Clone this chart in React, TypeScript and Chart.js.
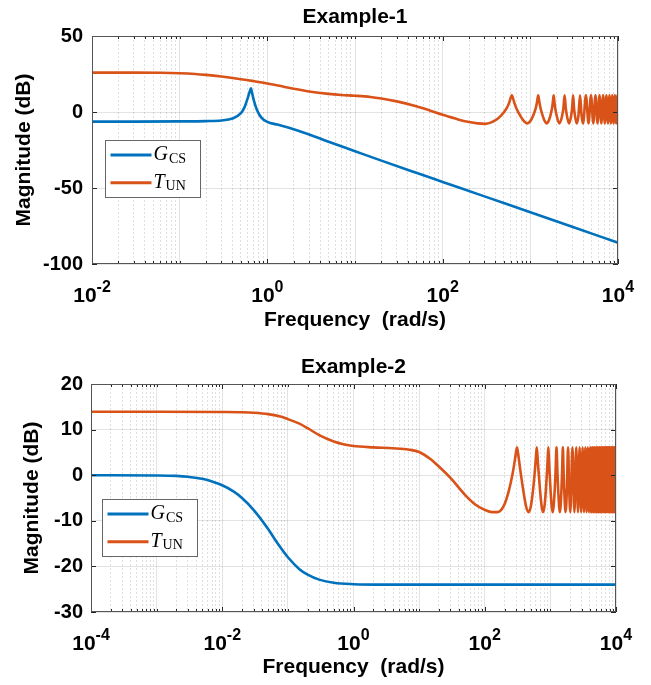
import React, { useEffect, useRef } from 'react';
import { Chart, registerables } from 'chart.js';

Chart.register(...registerables);

const BLUE = '#0072BD';
const ORANGE = '#D95319';
const FONT = "'Liberation Sans', Arial, Helvetica, sans-serif";
const SERIF = "'Liberation Serif', 'Times New Roman', serif";
const GRID_MAJOR = 'rgba(38,38,38,0.13)';
const GRID_MINOR = 'rgba(38,38,38,0.15)';
const AXIS_COLOR = '#262626';

const xAxisTitle = 'Frequency  (rad/s)';
const yAxisTitle = 'Magnitude (dB)';
const legendLabels = [
  { main: 'G', sub: 'CS' },
  { main: 'T', sub: 'UN' },
];

// ---------- Example-1 ----------
const ex1Title = 'Example-1';
const ex1XRange = [1e-2, 1e4];
const ex1YRange = [-100, 50];
const ex1YStep = 50;
const ex1XTickExps = [-2, 0, 2, 4];
const ex1Gcs: number[][] = [
  [0.01, -6.3], [0.03, -6.3], [0.1, -6.2], [0.2, -6.0], [0.3, -5.6], [0.4, -4.3], [0.5, -0.8],
  [0.55, 3.2], [0.6, 9.5], [0.63, 13.5], [0.65, 15.6], [0.67, 12.5], [0.7, 7.8], [0.76, 1.5],
  [0.85, -3.5], [1, -6.5], [1.3, -8.3], [1.8, -10.5], [3, -14.8], [5, -19.6], [10, -25.8],
  [20, -32], [50, -40], [100, -46], [300, -55.5], [1000, -66], [3000, -75.5], [10000, -86],
];
const ex1Tun: number[][] = [
  [0.01, 25.9], [0.03, 25.9], [0.06, 25.8], [0.1, 25.5], [0.15, 25.0], [0.2, 24.4], [0.3, 23.3],
  [0.5, 21.6], [0.7, 20.3], [1, 18.8], [1.5, 16.8], [2, 15.3], [3, 13.5], [5, 11.9], [7, 11.2],
  [10, 10.7], [15, 9.9], [20, 8.9], [30, 7.0], [50, 3.8], [70, 1.2], [100, -1.8], [150, -4.9],
  [200, -6.6], [250, -7.5], [307, -7.8],
  [384, -6], [461, -2.5], [538, 2.5], [577, 6.5], [615, 11], [653, 6.5], [692, 2.5], [769, -2.5], [846, -6], [922, -7.5],
  [999, -6], [1076, -2.5], [1153, 2.5], [1192, 6.5], [1230, 11], [1268, 6.5], [1307, 2.5], [1384, -2.5], [1461, -6], [1537, -7.5],
  [1614, -6], [1691, -2.5], [1768, 2.5], [1807, 6.5], [1845, 11], [1883, 6.5], [1922, 2.5], [1999, -2.5], [2076, -6], [2152, -7.5],
  [2306, -2.5], [2383, 2.5], [2460, 11], [2537, 2.5], [2614, -2.5], [2767, -7.5],
  [2921, -2.5], [2998, 2.5], [3075, 11], [3152, 2.5], [3229, -2.5], [3382, -7.5],
  [3536, -2.5], [3690, 11], [3844, -2.5], [3997, -7.5],
  [4305, 11], [4612, -7.5], [4920, 11], [5227, -7.5], [5535, 11], [5842, -7.5], [6150, 11], [6457, -7.5],
  [6765, 11], [7072, -7.5], [7380, 11], [7687, -7.5], [7995, 11], [8302, -7.5], [8610, 11], [8917, -7.5],
  [9225, 11], [9532, -7.5], [9840, 11], [10000, 3],
];

// ---------- Example-2 ----------
const ex2Title = 'Example-2';
const ex2XRange = [1e-4, 1e4];
const ex2YRange = [-30, 20];
const ex2YStep = 10;
const ex2XTickExps = [-4, -2, 0, 2, 4];
const ex2Gcs: number[][] = [
  [1e-4, 0], [1e-3, -0.05], [2e-3, -0.15], [3e-3, -0.35], [5e-3, -0.8], [7e-3, -1.4], [0.01, -2.2],
  [0.015, -3.6], [0.02, -5.0], [0.03, -7.6], [0.05, -11.8], [0.07, -15.0], [0.1, -18.0], [0.15, -20.6],
  [0.2, -21.8], [0.3, -22.9], [0.5, -23.6], [1, -23.9], [3, -24], [10000, -24],
];
const ex2Tun: number[][] = [
  [1e-4, 13.9], [1e-3, 13.9], [0.01, 13.85], [0.02, 13.8], [0.03, 13.7], [0.05, 13.4], [0.08, 12.8],
  [0.1, 12.3], [0.15, 11.3], [0.2, 10.3], [0.3, 8.8], [0.5, 7.4], [0.7, 6.8], [1, 6.4], [2, 6.1],
  [4, 5.9], [7, 5.6], [10, 5.1], [15, 3.5], [20, 1.9], [30, -0.6], [50, -4.3], [70, -6.3], [100, -7.6],
  [130, -8.1], [155, -8.1],
  [194, -6.8], [232, -3.5], [271, 1.0], [291, 3.8], [310, 6.1], [329, 3.8], [349, 1.0], [388, -3.5], [426, -6.8], [465, -8.1],
  [504, -6.8], [542, -3.5], [581, 1.0], [601, 3.8], [620, 6.1], [639, 3.8], [659, 1.0], [698, -3.5], [736, -6.8], [775, -8.1],
  [814, -6.8], [852, -3.5], [891, 1.0], [911, 3.8], [930, 6.1], [949, 3.8], [969, 1.0], [1008, -3.5], [1046, -6.8], [1085, -8.1],
  [1162, -3.5], [1201, 1.0], [1240, 6.1], [1279, 1.0], [1318, -3.5], [1395, -8.1],
  [1472, -3.5], [1511, 1.0], [1550, 6.1], [1589, 1.0], [1628, -3.5], [1705, -8.1],
  [1782, -3.5], [1860, 6.1], [1938, -3.5], [2015, -8.1],
  [2170, 6.1], [2325, -8.1], [2480, 6.1], [2635, -8.1], [2790, 6.1], [2945, -8.1], [3100, 6.1], [3255, -8.1],
  [3410, 6.1], [3565, -8.1], [3720, 6.1], [3875, -8.1], [4030, 6.1], [4185, -8.1], [4340, 6.1], [4495, -8.1],
  [4650, 6.1], [4805, -8.1], [4960, 6.1], [5115, -8.1], [5270, 6.1], [5425, -8.1], [5580, 6.1], [5735, -8.1],
  [5890, 6.1], [6045, -8.1], [6200, 6.1], [6355, -8.1], [6510, 6.1], [6665, -8.1], [6820, 6.1], [6975, -8.1],
  [7130, 6.1], [7285, -8.1], [7440, 6.1], [7595, -8.1], [7750, 6.1], [7905, -8.1], [8060, 6.1], [8215, -8.1],
  [8370, 6.1], [8525, -8.1], [8680, 6.1], [8835, -8.1], [8990, 6.1], [9145, -8.1], [9300, 6.1], [9455, -8.1],
  [9610, 6.1], [9765, -8.1], [9920, 6.1], [10000, 0],
];

type PanelCfg = {
  title: string;
  canvasH: number;
  plot: { l: number; r: number; t: number; b: number };
  xRange: number[];
  yRange: number[];
  yStep: number;
  xTickExps: number[];
  gcs: number[][];
  tun: number[][];
  legend: { dx: number; dy: number };
  yTitlePad: number;
  xTitlePad: number;
  titleDy: number;
  yTickPad: number;
};

const panels: PanelCfg[] = [
  {
    title: ex1Title, canvasH: 342, plot: { l: 92, r: 618, t: 36, b: 264 },
    xRange: ex1XRange, yRange: ex1YRange, yStep: ex1YStep, xTickExps: ex1XTickExps,
    gcs: ex1Gcs, tun: ex1Tun, legend: { dx: 13, dy: 104 },
    yTitlePad: 11.4, xTitlePad: 9.4, titleDy: 19, yTickPad: 9,
  },
  {
    title: ex2Title, canvasH: 343, plot: { l: 91, r: 616, t: 42, b: 270 },
    xRange: ex2XRange, yRange: ex2YRange, yStep: ex2YStep, xTickExps: ex2XTickExps,
    gcs: ex2Gcs, tun: ex2Tun, legend: { dx: 11, dy: 115 },
    yTitlePad: 20, xTitlePad: 5.4, titleDy: 17, yTickPad: 8,
  },
];

const isDecade = (v: number) => Math.abs(Math.log10(v) - Math.round(Math.log10(v))) < 1e-6;

function buildLogTicks(scale: any) {
  const out: any[] = [];
  const lo = Math.round(Math.log10(scale.min));
  const hi = Math.round(Math.log10(scale.max));
  for (let e = lo; e <= hi; e++) {
    for (let m = 1; m <= 9; m++) {
      const v = m * Math.pow(10, e);
      if (v > scale.max * 1.0001) break;
      out.push({ value: v, major: m === 1 });
    }
  }
  scale.ticks = out;
}

function makeDecor(p: PanelCfg) {
  return {
    id: 'decor',
    afterDraw(chart: any) {
      const { ctx, chartArea: a } = chart;
      const xs = chart.scales.x;
      const ys = chart.scales.y;
      ctx.save();
      // inner tick marks
      ctx.strokeStyle = AXIS_COLOR;
      ctx.lineWidth = 1;
      ctx.setLineDash([]);
      ctx.beginPath();
      for (const t of xs.ticks) {
        const px = Math.round(xs.getPixelForValue(t.value)) + 0.5;
        const e = Math.round(Math.log10(t.value));
        const len = isDecade(t.value) && p.xTickExps.includes(e) ? 5 : 3;
        ctx.moveTo(px, a.bottom);
        ctx.lineTo(px, a.bottom - len);
        ctx.moveTo(px, a.top);
        ctx.lineTo(px, a.top + len);
      }
      for (const t of ys.ticks) {
        const py = Math.round(ys.getPixelForValue(t.value)) + 0.5;
        ctx.moveTo(a.left, py);
        ctx.lineTo(a.left + 5, py);
        ctx.moveTo(a.right, py);
        ctx.lineTo(a.right - 5, py);
      }
      ctx.stroke();
      // box
      ctx.strokeStyle = '#555';
      ctx.strokeRect(a.left + 0.5, a.top + 0.5, a.right - a.left - 1, a.bottom - a.top - 1);

      // x tick labels with exponents
      ctx.fillStyle = '#000';
      ctx.textAlign = 'left';
      ctx.textBaseline = 'alphabetic';
      const baseFont = `bold 21px ${FONT}`;
      const expFont = `bold 16px ${FONT}`;
      for (const e of p.xTickExps) {
        const px = xs.getPixelForValue(Math.pow(10, e));
        ctx.font = baseFont;
        const wb = ctx.measureText('10').width;
        ctx.font = expFont;
        const et = String(e);
        const we = ctx.measureText(et).width;
        const x0 = px - (wb + we) / 2;
        ctx.font = baseFont;
        ctx.fillText('10', x0, a.bottom + 37.5);
        ctx.font = expFont;
        ctx.fillText(et, x0 + wb, a.bottom + 27.5);
      }

      // title
      ctx.font = `bold 21px ${FONT}`;
      ctx.textAlign = 'center';
      ctx.textBaseline = 'middle';
      ctx.fillText(p.title, (a.left + a.right) / 2, a.top - p.titleDy);

      // legend
      const bx = Math.round(a.left + p.legend.dx) + 0.5;
      const by = Math.round(a.top + p.legend.dy) + 0.5;
      const bw = 95;
      const bh = 57;
      ctx.fillStyle = '#fff';
      ctx.fillRect(bx, by, bw, bh);
      ctx.strokeStyle = '#666';
      ctx.lineWidth = 1;
      ctx.strokeRect(bx, by, bw, bh);
      chart.data.datasets.forEach((ds: any, i: number) => {
        const ry = by + 14.5 + i * 27.8;
        ctx.strokeStyle = ds.borderColor;
        ctx.lineWidth = 3;
        ctx.beginPath();
        ctx.moveTo(bx + 5, ry);
        ctx.lineTo(bx + 46, ry);
        ctx.stroke();
        const lab = legendLabels[i];
        ctx.fillStyle = '#000';
        ctx.textAlign = 'left';
        ctx.textBaseline = 'alphabetic';
        ctx.font = `italic 20px ${SERIF}`;
        ctx.fillText(lab.main, bx + 48, ry + 5);
        const w = ctx.measureText(lab.main).width;
        ctx.font = `14px ${SERIF}`;
        ctx.fillText(lab.sub, bx + 48 + w + 1, ry + 7.5);
      });
      ctx.restore();
    },
  };
}

function BodePanel({ p }: { p: PanelCfg }) {
  const ref = useRef<HTMLCanvasElement>(null);
  useEffect(() => {
    const canvas = ref.current;
    if (!canvas) return;
    const toPts = (arr: number[][]) => arr.map(([x, y]) => ({ x, y }));
    const chart = new Chart(canvas, {
      type: 'line',
      data: {
        datasets: [
          {
            label: 'G_CS', data: toPts(p.gcs), borderColor: BLUE, borderWidth: 2.6,
            pointRadius: 0, cubicInterpolationMode: 'monotone', clip: 0, fill: false,
          },
          {
            label: 'T_UN', data: toPts(p.tun), borderColor: ORANGE, borderWidth: 2.6,
            pointRadius: 0, cubicInterpolationMode: 'monotone', clip: 0, fill: false,
          },
        ],
      } as any,
      options: {
        animation: false,
        responsive: false,
        devicePixelRatio: 1,
        layout: { padding: { left: 0, right: 651 - p.plot.r, top: p.plot.t, bottom: 0 } },
        plugins: { legend: { display: false }, tooltip: { enabled: false }, title: { display: false } },
        scales: {
          x: {
            type: 'logarithmic',
            min: p.xRange[0],
            max: p.xRange[1],
            afterBuildTicks: buildLogTicks,
            afterFit: (s: any) => { s.height = p.canvasH - p.plot.b; },
            ticks: { display: false },
            grid: {
              drawTicks: false,
              color: (c: any) => (c.tick && isDecade(c.tick.value) ? GRID_MAJOR : GRID_MINOR),
              lineWidth: 1,
            },
            border: {
              display: false,
              dash: (c: any) => (c.tick && isDecade(c.tick.value) ? [] : [2, 2]),
            },
            title: {
              display: true, text: xAxisTitle, color: '#000',
              font: { family: FONT, size: 21, weight: 'bold' },
              padding: { top: 0, bottom: p.xTitlePad },
            },
          },
          y: {
            type: 'linear',
            min: p.yRange[0],
            max: p.yRange[1],
            afterFit: (s: any) => { s.width = p.plot.l; },
            ticks: {
              stepSize: p.yStep, color: '#000', padding: p.yTickPad,
              font: { family: FONT, size: 20, weight: 'bold' },
            },
            grid: { drawTicks: false, color: GRID_MAJOR, lineWidth: 1 },
            border: { display: false },
            title: {
              display: true, text: yAxisTitle, color: '#000',
              font: { family: FONT, size: 21, weight: 'bold' },
              padding: { top: p.yTitlePad, bottom: 0 },
            },
          },
        },
      } as any,
      plugins: [makeDecor(p)],
    });
    return () => chart.destroy();
  }, [p]);
  return (
    <canvas
      ref={ref}
      width={651}
      height={p.canvasH}
      style={{ display: 'block', width: 651, height: p.canvasH }}
    />
  );
}

export default function App() {
  return (
    <div style={{ position: 'absolute', left: 0, top: 0, width: 651, height: 685, background: '#fff' }}>
      {panels.map((p) => (
        <BodePanel key={p.title} p={p} />
      ))}
    </div>
  );
}
